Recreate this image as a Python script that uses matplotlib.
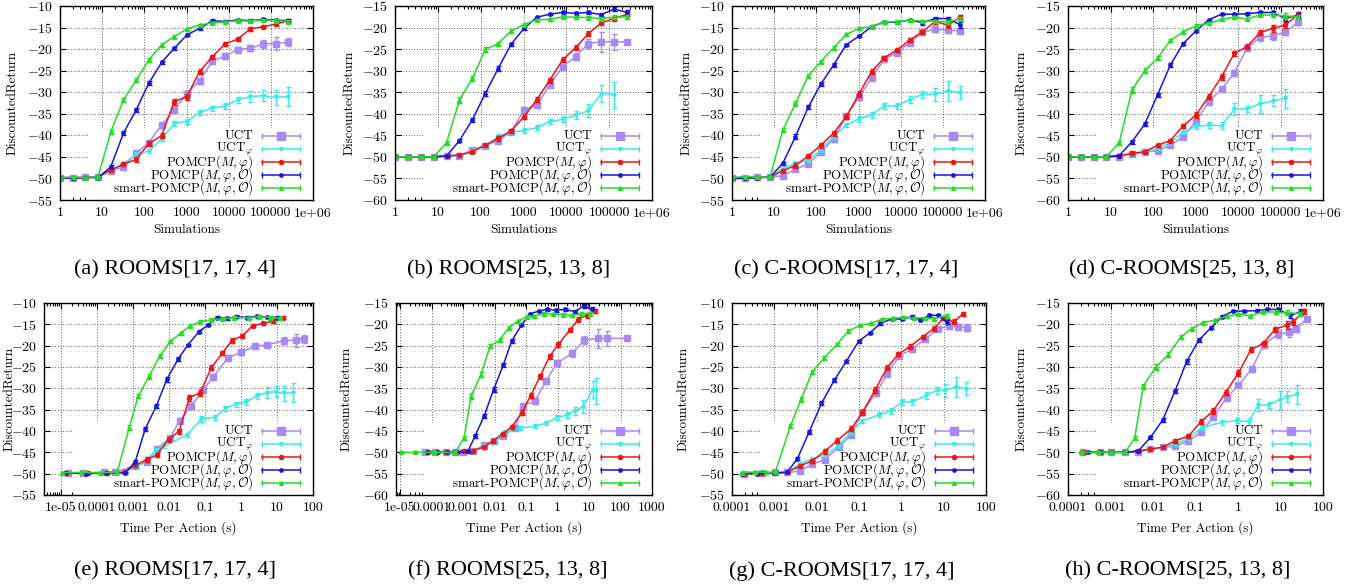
import matplotlib
matplotlib.use('Agg')
import matplotlib.pyplot as plt
from matplotlib.patches import Rectangle
from matplotlib.ticker import FixedLocator, FixedFormatter, LogLocator, NullFormatter

plt.rcParams['font.family'] = 'cmr10'
plt.rcParams['mathtext.fontset'] = 'cm'
plt.rcParams['axes.unicode_minus'] = False

W, H = 1364, 587

# ---------------- data ----------------
sims = [1, 2, 4, 8, 16, 32, 64, 128, 256, 512, 1024, 2048, 4096, 8192,
        16384, 32768, 65536, 131072, 262144]

# (a) / (e)  ROOMS[17,17,4]
a_uct = [-49.8, -49.9, -49.6, -49.6, -48.2, -47.3, -44.2, -41.7, -37.6, -34.1, -30.3, -27.3, -22.8, -21.6, -20.1, -19.8, -18.8, -18.7, -18.4]
a_uct_err = [0.2, 0.2, 0.2, 0.2, 0.4, 0.4, 0.5, 0.6, 0.6, 0.7, 0.7, 0.7, 0.6, 0.6, 0.6, 0.7, 0.9, 1.5, 0.9]
a_uctphi = [-49.8, -49.8, -49.8, -49.7, -48.2, -46.6, -44.4, -43.6, -40.9, -37.2, -36.8, -34.7, -33.7, -33.2, -31.8, -31.0, -30.8, -31.2, -31.0]
a_uctphi_err = [0.2, 0.2, 0.2, 0.2, 0.4, 0.4, 0.5, 0.5, 0.5, 0.6, 0.6, 0.6, 0.6, 0.6, 0.8, 1.2, 1.3, 1.8, 2.2]
a_pomcp = [-49.8, -49.8, -49.8, -49.7, -48.0, -46.7, -45.6, -41.9, -40.1, -32.2, -31.0, -25.2, -21.8, -18.8, -17.7, -15.3, -14.8, -14.2, -13.4]
a_pomcp_err = [0.2, 0.2, 0.2, 0.2, 0.4, 0.5, 0.5, 0.6, 0.6, 0.7, 0.7, 0.6, 0.5, 0.5, 0.4, 0.4, 0.4, 0.4, 0.4]
a_pomcpo = [-49.8, -50.0, -49.8, -49.8, -47.3, -39.5, -34.1, -27.9, -23.1, -19.8, -16.7, -15.2, -13.4, -13.6, -13.2, -13.4, -13.1, -13.3, -13.4]
a_pomcpo_err = [0.2, 0.2, 0.2, 0.2, 0.4, 0.5, 0.5, 0.5, 0.4, 0.3, 0.3, 0.3, 0.3, 0.3, 0.3, 0.3, 0.3, 0.3, 0.3]
a_smart = [-49.8, -49.7, -49.8, -49.6, -39.2, -31.8, -27.2, -22.5, -19.0, -17.1, -15.3, -14.4, -13.9, -13.7, -13.4, -13.5, -13.2, -13.4, -13.6]
a_smart_err = [0.2, 0.2, 0.2, 0.2, 0.5, 0.5, 0.5, 0.5, 0.4, 0.3, 0.3, 0.3, 0.3, 0.3, 0.3, 0.3, 0.3, 0.3, 0.3]

# (b) / (f)  ROOMS[25,13,8]
b_uct = [-50, -50, -50, -50, -49.9, -49.7, -48.3, -47.4, -46.2, -44.2, -39.1, -38.0, -33.3, -29.1, -26.8, -23.7, -23.3, -23.3, -23.3]
b_uct_err = [0.2, 0.2, 0.2, 0.2, 0.2, 0.3, 0.4, 0.4, 0.5, 0.5, 0.6, 0.6, 0.6, 0.7, 0.8, 1.0, 2.3, 1.8, 0.5]
b_uctphi = [-50, -50, -50, -50, -49.8, -49.6, -48.6, -47.6, -45.3, -44.3, -43.9, -43.2, -41.8, -41.3, -40.3, -39.3, -35.3, -35.6]
b_uctphi_err = [0.2, 0.2, 0.2, 0.2, 0.2, 0.3, 0.4, 0.4, 0.5, 0.5, 0.5, 0.5, 0.6, 0.7, 1.0, 1.5, 2.0, 3.0]
b_pomcp = [-50, -50, -50, -50, -49.7, -49.6, -48.8, -47.3, -45.7, -44.0, -40.7, -36.7, -32.2, -27.5, -24.7, -21.4, -18.9, -17.9, -16.9]
b_pomcp_err = [0.2, 0.2, 0.2, 0.2, 0.2, 0.3, 0.4, 0.4, 0.5, 0.5, 0.6, 0.6, 0.6, 0.6, 0.6, 0.5, 0.6, 0.6, 0.5]
b_pomcpo = [-50, -50, -50, -50, -49.8, -46.2, -41.4, -35.3, -29.5, -23.9, -20.2, -17.6, -16.9, -16.5, -16.7, -16.5, -17.0, -15.7, -16.5]
b_pomcpo_err = [0.2, 0.2, 0.2, 0.2, 0.3, 0.4, 0.5, 0.5, 0.5, 0.4, 0.3, 0.3, 0.3, 0.3, 0.3, 0.3, 0.3, 0.4, 0.5]
b_smart = [-50, -50, -50, -50, -46.7, -36.8, -31.8, -25.1, -23.7, -20.8, -19.3, -18.2, -18.1, -17.5, -17.6, -17.7, -17.9, -17.6, -17.5]
b_smart_err = [0.2, 0.2, 0.2, 0.2, 0.5, 0.6, 0.6, 0.5, 0.4, 0.4, 0.4, 0.3, 0.3, 0.3, 0.3, 0.3, 0.3, 0.5, 0.4]

# (c) / (g)  C-ROOMS[17,17,4]
c_uct = [-50, -49.8, -49.7, -49.7, -49.4, -47.8, -46.7, -43.8, -40.9, -35.5, -31.2, -26.6, -22.4, -20.8, -18.5, -16.1, -15.4, -15.6, -15.8]
c_uct_err = [0.2, 0.2, 0.2, 0.2, 0.3, 0.4, 0.5, 0.5, 0.6, 0.6, 0.6, 0.6, 0.6, 0.5, 0.5, 0.5, 0.6, 0.7, 0.8]
c_uctphi = [-49.8, -49.7, -49.8, -49.7, -47.7, -46.5, -45.7, -43.4, -40.3, -37.6, -36.2, -35.3, -33.2, -33.2, -31.7, -30.5, -30.5, -29.7, -30.1]
c_uctphi_err = [0.2, 0.2, 0.2, 0.2, 0.3, 0.4, 0.5, 0.5, 0.5, 0.5, 0.6, 0.6, 0.6, 0.7, 0.8, 0.8, 1.5, 2.3, 1.5]
c_pomcp = [-50, -49.8, -49.8, -49.7, -48.2, -47.0, -44.8, -42.3, -39.5, -35.7, -30.4, -25.2, -22.0, -20.2, -17.9, -16.0, -13.6, -14.4, -12.6]
c_pomcp_err = [0.2, 0.2, 0.2, 0.2, 0.3, 0.5, 0.5, 0.6, 0.6, 0.6, 0.7, 0.6, 0.5, 0.5, 0.5, 0.5, 0.5, 0.6, 0.5]
c_pomcpo = [-50, -50, -49.8, -49.7, -46.5, -40.3, -33.5, -28.1, -23.7, -19.0, -17.0, -14.8, -13.7, -13.8, -13.2, -13.9, -12.9, -12.9, -14.4]
c_pomcpo_err = [0.2, 0.2, 0.2, 0.2, 0.4, 0.5, 0.5, 0.5, 0.4, 0.3, 0.3, 0.3, 0.3, 0.3, 0.3, 0.4, 0.3, 0.4, 0.6]
c_smart = [-49.8, -49.6, -49.7, -49.7, -38.8, -32.6, -26.2, -22.9, -19.7, -16.6, -15.2, -14.8, -13.8, -13.6, -13.3, -13.5, -13.5, -13.7, -13.0]
c_smart_err = [0.2, 0.2, 0.2, 0.2, 0.5, 0.5, 0.5, 0.4, 0.4, 0.4, 0.3, 0.3, 0.3, 0.3, 0.3, 0.3, 0.3, 0.4, 0.4]

# (d) / (h)  C-ROOMS[25,13,8]
d_uct = [-50, -50, -50, -50, -50, -49.3, -48.8, -48.6, -47.3, -45.3, -41.8, -37.2, -34.3, -30.5, -24.8, -22.3, -21.9, -21.0, -18.8]
d_uct_err = [0.2, 0.2, 0.2, 0.2, 0.2, 0.3, 0.3, 0.4, 0.4, 0.5, 0.6, 0.6, 0.6, 0.7, 0.7, 0.9, 1.0, 0.8, 0.5]
d_uctphi = [-50, -50, -50, -50, -49.8, -49.4, -48.9, -48.0, -46.7, -44.2, -43.0, -42.6, -42.8, -38.9, -38.9, -37.7, -37.0, -36.4]
d_uctphi_err = [0.2, 0.2, 0.2, 0.2, 0.2, 0.3, 0.3, 0.4, 0.5, 0.5, 0.6, 0.6, 0.8, 1.3, 0.6, 2.1, 1.3, 2.2]
d_pomcp = [-50, -50, -50, -50, -49.7, -49.2, -48.8, -47.3, -46.2, -42.8, -40.3, -36.0, -31.4, -26.0, -24.4, -21.2, -20.2, -19.4, -16.9]
d_pomcp_err = [0.2, 0.2, 0.2, 0.2, 0.2, 0.3, 0.3, 0.4, 0.4, 0.5, 0.6, 0.6, 0.7, 0.6, 0.6, 0.6, 0.9, 0.7, 0.6]
d_pomcpo = [-50, -50, -50, -50, -49.7, -46.5, -42.4, -35.6, -28.7, -23.7, -20.8, -18.2, -16.9, -16.9, -16.8, -16.5, -16.5, -17.9, -17.1]
d_pomcpo_err = [0.2, 0.2, 0.2, 0.2, 0.3, 0.4, 0.5, 0.5, 0.5, 0.4, 0.3, 0.3, 0.3, 0.3, 0.3, 0.3, 0.3, 0.5, 0.6]
d_smart = [-50, -50, -50, -50, -46.7, -34.5, -30.0, -27.1, -23.0, -21.0, -19.6, -19.0, -18.1, -17.6, -18.0, -17.1, -17.1, -17.3, -17.5]
d_smart_err = [0.2, 0.2, 0.2, 0.2, 0.5, 0.6, 0.6, 0.5, 0.4, 0.4, 0.4, 0.3, 0.3, 0.3, 0.3, 0.3, 0.5, 0.6, 0.5]

# time per action (s), bottom row
e_uct_t = [1.6e-5, 4.0e-5, 1.6e-4, 3.2e-4, 1.15e-3, 2.5e-3, 4.6e-3, 0.0105, 0.020, 0.042, 0.091, 0.17, 0.44, 1.0, 2.5, 5.4, 15.5, 33, 56]
e_uctphi_t = [1.4e-5, 5.4e-5, 1.9e-4, 6.0e-4, 1.3e-3, 2.5e-3, 4.5e-3, 7.1e-3, 0.032, 0.079, 0.19, 0.37, 0.74, 1.4, 2.7, 5.4, 9.1, 15.5, 28]
e_pomcp_t = [1.4e-5, 5.8e-5, 1.9e-4, 5.6e-4, 1.15e-3, 2.5e-3, 4.6e-3, 9.8e-3, 0.019, 0.037, 0.074, 0.15, 0.30, 0.56, 1.1, 2.1, 4.1, 7.9, 15]
e_pomcpo_t = [1.3e-5, 5.0e-5, 1.8e-4, 6.0e-4, 1.15e-3, 2.2e-3, 4.5e-3, 8.7e-3, 0.018, 0.034, 0.068, 0.12, 0.21, 0.40, 0.74, 1.5, 2.8, 5.4, 10]
e_smart_t = [1.05e-5, 3.6e-5, 1.2e-4, 3.7e-4, 7.9e-4, 1.4e-3, 2.8e-3, 5.5e-3, 0.011, 0.021, 0.039, 0.074, 0.15, 0.30, 0.63, 1.7, 3.2, 6.3, 12]

f_uct_t = [6.2e-5, 1.3e-4, 2.9e-4, 5.6e-4, 1.0e-3, 2.1e-3, 4.5e-3, 9.3e-3, 0.019, 0.045, 0.079, 0.19, 0.43, 0.95, 2.9, 7.1, 18.6, 37, 166]
f_uctphi_t = [6.2e-5, 1.3e-4, 2.9e-4, 5.6e-4, 1.07e-3, 2.1e-3, 4.5e-3, 9.8e-3, 0.022, 0.065, 0.19, 0.43, 0.95, 2.0, 3.6, 6.5, 13.2, 17]
f_pomcp_t = [7.9e-5, 1.5e-4, 2.9e-4, 5.6e-4, 1.07e-3, 2.1e-3, 4.5e-3, 8.7e-3, 0.018, 0.035, 0.074, 0.14, 0.28, 0.56, 1.07, 2.4, 4.5, 8.5, 15.8]
f_pomcpo_t = [7.1e-5, 1.5e-4, 3.0e-4, 6.3e-4, 1.4e-3, 2.4e-3, 4.7e-3, 9.3e-3, 0.019, 0.035, 0.071, 0.13, 0.25, 0.46, 0.91, 1.7, 3.5, 6.8, 12.3]
f_smart_t = [1.1e-5, 3.0e-5, 1.15e-4, 5.6e-4, 1.07e-3, 1.8e-3, 3.7e-3, 7.2e-3, 0.0145, 0.028, 0.054, 0.107, 0.18, 0.36, 0.74, 1.5, 2.9, 5.5, 11]

g_uct_t = [1.9e-4, 5.1e-4, 1.05e-3, 2.0e-3, 4.0e-3, 7.8e-3, 0.0155, 0.033, 0.065, 0.12, 0.25, 0.47, 0.89, 1.8, 3.6, 7.2, 13.5, 22, 36]
g_uctphi_t = [1.9e-4, 5.1e-4, 1.05e-3, 2.0e-3, 4.0e-3, 7.8e-3, 0.0155, 0.033, 0.065, 0.12, 0.30, 0.56, 1.02, 1.8, 3.8, 6.8, 10.5, 19.5, 34]
g_pomcp_t = [1.9e-4, 5.1e-4, 1.05e-3, 2.0e-3, 4.0e-3, 7.8e-3, 0.0155, 0.030, 0.065, 0.12, 0.24, 0.46, 0.85, 1.6, 3.2, 5.9, 9.8, 17.4, 28]
g_pomcpo_t = [1.7e-4, 3.9e-4, 1.0e-3, 2.0e-3, 3.5e-3, 6.6e-3, 0.013, 0.026, 0.050, 0.098, 0.18, 0.32, 0.59, 1.02, 1.8, 2.75, 4.6, 7.4, 11.7]
g_smart_t = [1.7e-4, 3.5e-4, 6.2e-4, 1.05e-3, 2.4e-3, 4.3e-3, 7.8e-3, 0.015, 0.030, 0.056, 0.107, 0.19, 0.35, 0.65, 1.12, 2.0, 3.6, 6.0, 11.7]

h_uct_t = [2.2e-4, 5.6e-4, 1.05e-3, 2.2e-3, 4.5e-3, 8.7e-3, 0.017, 0.033, 0.068, 0.135, 0.26, 0.54, 1.02, 2.1, 4.0, 8.7, 15.5, 23, 41]
h_uctphi_t = [2.2e-4, 5.6e-4, 1.05e-3, 2.2e-3, 4.5e-3, 8.7e-3, 0.017, 0.035, 0.068, 0.14, 0.41, 0.93, 1.8, 3.0, 5.5, 9.5, 14, 24.5]
h_pomcp_t = [2.2e-4, 5.6e-4, 1.05e-3, 2.2e-3, 4.5e-3, 8.7e-3, 0.017, 0.033, 0.068, 0.135, 0.26, 0.51, 1.02, 2.0, 4.0, 7.4, 14, 20, 35]
h_pomcpo_t = [3.0e-4, 5.6e-4, 1.05e-3, 2.2e-3, 4.5e-3, 8.7e-3, 0.017, 0.033, 0.062, 0.12, 0.23, 0.42, 0.76, 1.4, 2.75, 4.9, 8.9, 17, 29]
h_smart_t = [2.0e-4, 5.1e-4, 1.05e-3, 2.2e-3, 3.7e-3, 5.9e-3, 0.0117, 0.023, 0.045, 0.081, 0.15, 0.29, 0.54, 1.02, 1.9, 3.8, 7.9, 14, 28]

labels = ['UCT', r'UCT$_\varphi$', r'POMCP$(M,\varphi)$',
          r'POMCP$(M,\varphi,\mathcal{O})$', r'smart-POMCP$(M,\varphi,\mathcal{O})$']
colors = ['#a888f2', '#35ecec', '#ee1515', '#1515dd', '#22dd22']
markers = ['s', 'v', 'o', 'o', '^']
msizes = [3.8, 2.6, 3.0, 2.4, 2.8]

top_xticks = [1, 10, 100, 1000, 10000, 100000, 1e6]
top_xticklabels = ['1', '10', '100', '1000', '10000', '100000', '1e+06']
e_xticks = [1e-5, 1e-4, 1e-3, 1e-2, 0.1, 1, 10, 100]
e_xticklabels = ['1e-05', '0.0001', '0.001', '0.01', '0.1', '1', '10', '100']
f_xticks = [1e-5, 1e-4, 1e-3, 1e-2, 0.1, 1, 10, 100, 1000]
f_xticklabels = ['1e-05', '0.0001', '0.001', '0.01', '0.1', '1', '10', '100', '1000']
g_xticks = [1e-4, 1e-3, 1e-2, 0.1, 1, 10, 100]
g_xticklabels = ['0.0001', '0.001', '0.01', '0.1', '1', '10', '100']

captions = ['(a) ROOMS[17, 17, 4]', '(b) ROOMS[25, 13, 8]',
            '(c) C-ROOMS[17, 17, 4]', '(d) C-ROOMS[25, 13, 8]',
            '(e) ROOMS[17, 17, 4]', '(f) ROOMS[25, 13, 8]',
            '(g) C-ROOMS[17, 17, 4]', '(h) C-ROOMS[25, 13, 8]']

# ---------------- figure ----------------
fig = plt.figure(figsize=(W / 100, H / 100), dpi=100)


def add_ax(l, r, t, b):
    return fig.add_axes([l / W, (H - b) / H, (r - l) / W, (b - t) / H])


def fig_text(x, y, s, **kw):
    fig.text(x / W, (H - y) / H, s, ha='center', va='center', **kw)


def panel(rect, xs, ys, errs, xlim, ylim, xticks, xticklabels, xlabel,
          ylabel_x, xlabel_y, caption, cap_xy):
    l, r, t, b = rect
    wpx, hpx = r - l, b - t
    ax = add_ax(l, r, t, b)
    ax.set_xscale('log')
    ax.set_xlim(*xlim)
    ax.set_ylim(*ylim)
    ax.set_axisbelow(True)

    ax.xaxis.set_major_locator(FixedLocator(xticks))
    ax.xaxis.set_major_formatter(FixedFormatter(xticklabels))
    ax.xaxis.set_minor_locator(LogLocator(base=10, subs=range(2, 10), numticks=30))
    ax.xaxis.set_minor_formatter(NullFormatter())
    yt = list(range(ylim[0], ylim[1] + 1, 5))
    ax.yaxis.set_major_locator(FixedLocator(yt))
    ax.yaxis.set_major_formatter(FixedFormatter(['$-%d$' % (-v) for v in yt]))

    ax.tick_params(which='both', direction='in', top=True, right=True,
                   labelsize=10, width=0.8)
    ax.tick_params(which='major', length=4.5, pad=5)
    ax.tick_params(which='minor', length=2.2)
    ax.grid(True, which='major', color='#333333', ls=(0, (1, 2.2)), lw=0.6)
    for sp in ax.spines.values():
        sp.set_linewidth(1.0)

    # opaque key box
    ax.add_patch(Rectangle((0.11, 0), 0.89, 72 / hpx, transform=ax.transAxes,
                           facecolor='white', edgecolor='none', zorder=1))

    for i in range(5):
        ax.errorbar(xs[i], ys[i], yerr=errs[i], color=colors[i], marker=markers[i],
                    ms=msizes[i], lw=1.1, elinewidth=1.0, capsize=1.8,
                    capthick=1.0, zorder=2 + i * 0.1)

    # gnuplot-like key: right aligned text, sample with caps
    rows = [64, 51, 38, 25, 12]
    tx = 1 - 60 / wpx
    s0, s1 = 1 - 51 / wpx, 1 - 13 / wpx
    for i in range(5):
        yy = rows[i] / hpx
        ax.text(tx, yy, labels[i], transform=ax.transAxes, ha='right',
                va='center', fontsize=9.4, zorder=6)
        ax.plot([s0, s1], [yy, yy], transform=ax.transAxes, color=colors[i],
                lw=1.1, zorder=6)
        ax.plot([s0, s1], [yy, yy], transform=ax.transAxes, color=colors[i],
                ls='none', marker='|', ms=4, mew=1.0, zorder=6)
        ax.plot([(s0 + s1) / 2], [yy], transform=ax.transAxes, color=colors[i],
                ls='none', marker=markers[i],
                ms=msizes[i] * (1.5 if i == 0 else 1.0), zorder=6)

    fig_text((l + r) / 2, xlabel_y, xlabel, fontsize=9.5)
    fig_text(ylabel_x, (t + b) / 2, 'DiscountedReturn', fontsize=9.5, rotation=90)
    fig_text(cap_xy[0], cap_xy[1], caption, fontsize=16, family='Liberation Serif')
    return ax


def cut(x, y):
    return x[:len(y)]


top_data = [
    ([a_uct, a_uctphi, a_pomcp, a_pomcpo, a_smart],
     [a_uct_err, a_uctphi_err, a_pomcp_err, a_pomcpo_err, a_smart_err]),
    ([b_uct, b_uctphi, b_pomcp, b_pomcpo, b_smart],
     [b_uct_err, b_uctphi_err, b_pomcp_err, b_pomcpo_err, b_smart_err]),
    ([c_uct, c_uctphi, c_pomcp, c_pomcpo, c_smart],
     [c_uct_err, c_uctphi_err, c_pomcp_err, c_pomcpo_err, c_smart_err]),
    ([d_uct, d_uctphi, d_pomcp, d_pomcpo, d_smart],
     [d_uct_err, d_uctphi_err, d_pomcp_err, d_pomcpo_err, d_smart_err]),
]
bottom_x = [
    [e_uct_t, e_uctphi_t, e_pomcp_t, e_pomcpo_t, e_smart_t],
    [f_uct_t, f_uctphi_t, f_pomcp_t, f_pomcpo_t, f_smart_t],
    [g_uct_t, g_uctphi_t, g_pomcp_t, g_pomcpo_t, g_smart_t],
    [h_uct_t, h_uctphi_t, h_pomcp_t, h_pomcpo_t, h_smart_t],
]

top_rects = [(60, 313, 6, 200), (395, 652, 6, 200), (732, 985, 6, 200), (1068, 1323, 6, 200)]
bot_rects = [(44, 313, 303, 495), (396, 652, 303, 495), (732, 986, 303, 495), (1068, 1323, 303, 495)]
ylims = [(-55, -10), (-60, -15), (-55, -10), (-60, -15)]
top_ylab_x = [13, 350, 687, 1022]
bot_ylab_x = [10, 347, 684, 1022]
top_cap = [(175, 270), (509, 270), (846, 270), (1182, 270)]
bot_cap = [(175, 571), (508, 571), (842, 571), (1178, 571)]
bot_xlims = [(3.4e-6, 100), (7.4e-6, 1000), (1e-4, 100), (1e-4, 100)]
bot_ticks = [(e_xticks, e_xticklabels), (f_xticks, f_xticklabels),
             (g_xticks, g_xticklabels), (g_xticks, g_xticklabels)]

for k in range(4):
    ys, errs = top_data[k]
    xs = [cut(sims, y) for y in ys]
    panel(top_rects[k], xs, ys, errs, (1, 1e6), ylims[k], top_xticks,
          top_xticklabels, 'Simulations', top_ylab_x[k], 230, captions[k], top_cap[k])
    panel(bot_rects[k], bottom_x[k], ys, errs, bot_xlims[k], ylims[k],
          bot_ticks[k][0], bot_ticks[k][1], 'Time Per Action (s)',
          bot_ylab_x[k], 528, captions[k + 4], bot_cap[k])

fig.savefig('out.png', dpi=100)
